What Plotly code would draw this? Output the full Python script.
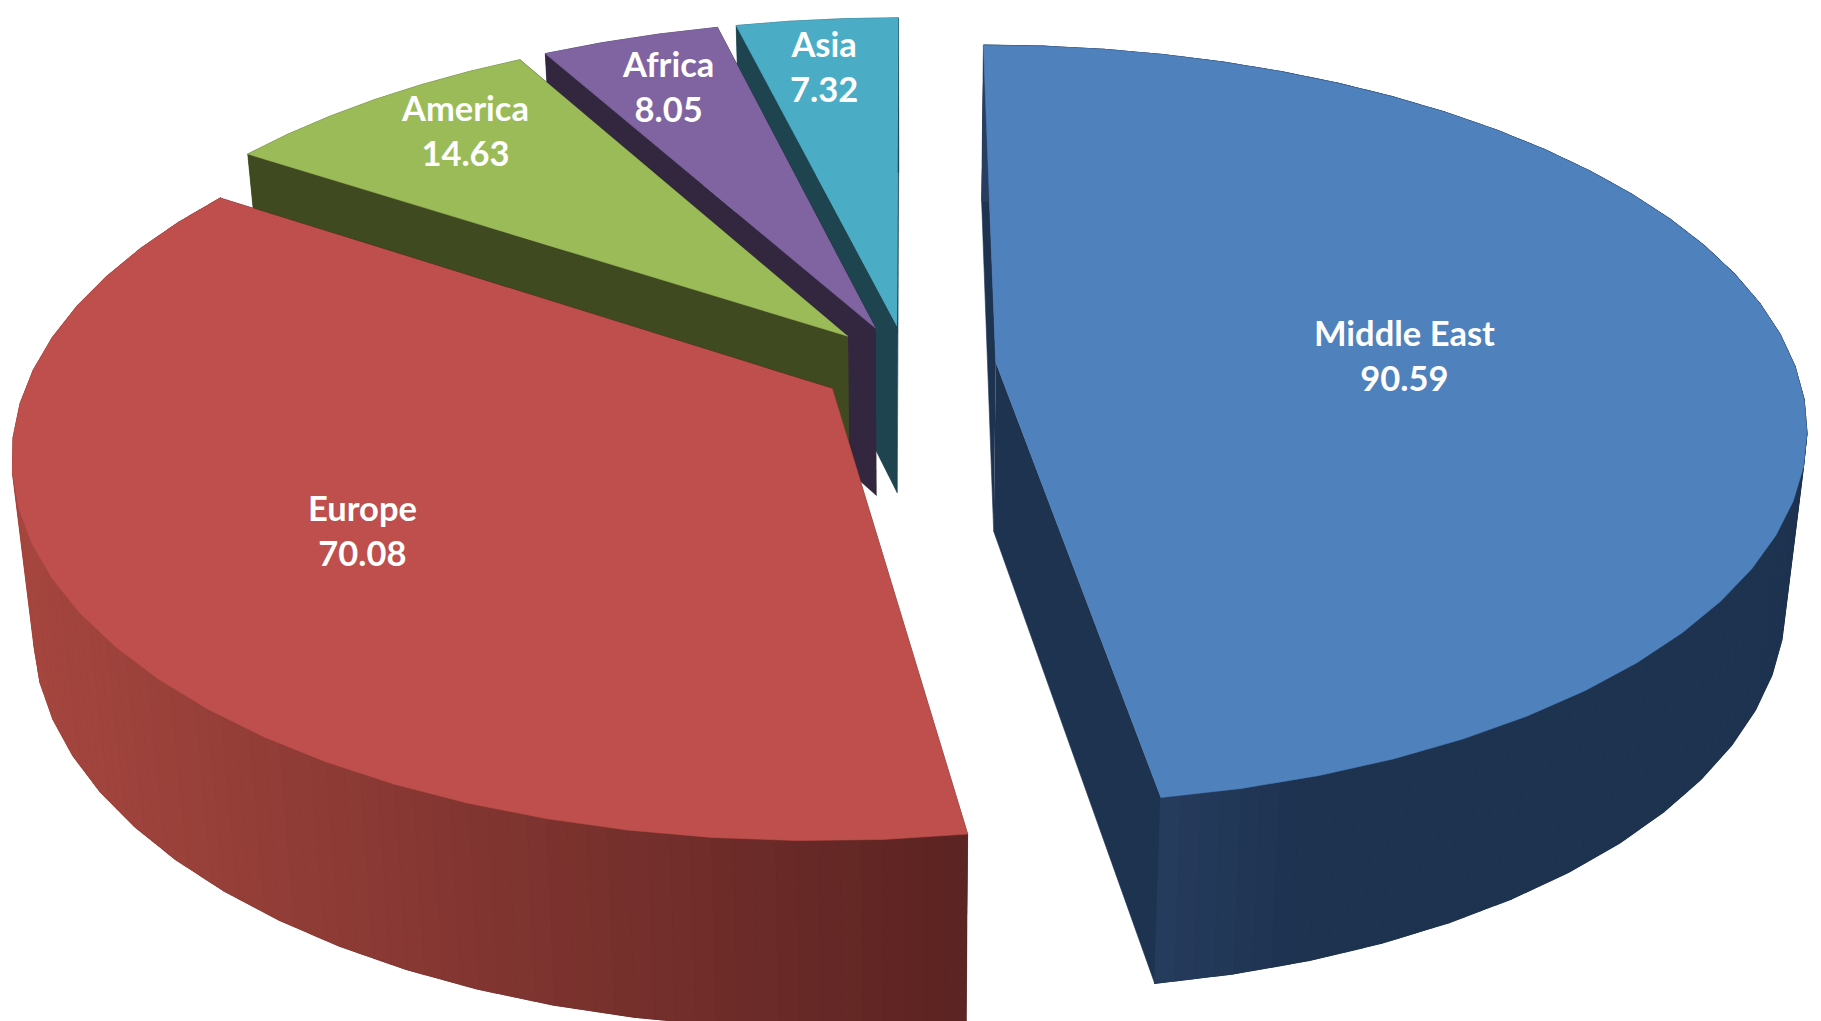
import numpy as np
import plotly.graph_objects as go

# ---- data (clockwise from 12 o'clock) ----
regions = ["Middle East", "Europe", "America", "Africa", "Asia"]
values = [90.59, 70.08, 14.63, 8.05, 7.32]

# ---- styles ----
top_colors = ["#4F81BD", "#BE4F4C", "#9BBB59", "#8064A2", "#4BACC6"]
side_colors = ["#1E3350", "#5C2422", "#404A21", "#33273F", "#1E4450"]
draw_order = ["Asia", "Africa", "America", "Middle East", "Europe"]
label_font_size = 34.5
label_anchor = {"Middle East": (1404, 355), "Europe": (362, 530), "America": (465, 130),
                "Africa": (668, 86), "Asia": (824, 66)}
rim_ramp = {"Middle East": ((1150, "#283E60"), (1300, "#1E3350")),
            "Europe": ((30, "#A5463F"), (960, "#5C2422"))}

# ---- 3D pie camera model ----
CX, CY, RX, RY, PERSP = 907.5, 366.0, 799.0, 370.4, 0.163
EXPLODE, BASE_SCALE, BASE_DROP, BASE_STRETCH = 0.111, 0.976, 168.5, 0.04
FACET_DEG = 5.0
STRIPS_PER_FACET = 4
W, H = 1821, 1021


def project(px, py):
    w = 1 + PERSP * py
    return CX + RX * px / w, CY - RY * py / w


def to_base(sx, sy):
    return CX + (sx - CX) * BASE_SCALE, sy + BASE_DROP + (sy - 364) * BASE_STRETCH


def hex_rgb(c):
    return np.array([int(c[i:i + 2], 16) for i in (1, 3, 5)], float)


def ramp(name, x):
    (x0, c0), (x1, c1) = rim_ramp[name]
    t = min(1, max(0, (x - x0) / (x1 - x0)))
    r = hex_rgb(c0) * (1 - t) + hex_rgb(c1) * t
    return "rgb(%d,%d,%d)" % tuple(r)


def poly(xs, ys, color, width=0.6):
    return go.Scatter(x=list(xs), y=list(ys), mode="lines", fill="toself", fillcolor=color,
                      line=dict(color=color, width=width), hoverinfo="skip", showlegend=False)


total = sum(values)
edges = np.concatenate([[0], np.cumsum(values)]) / total * 2 * np.pi
fig = go.Figure()

for name in draw_order:
    i = regions.index(name)
    a0, a1 = edges[i], edges[i + 1]
    mid = (a0 + a1) / 2
    ox, oy = EXPLODE * np.sin(mid), EXPLODE * np.cos(mid)
    n = max(2, int(round(np.degrees(a1 - a0) / FACET_DEG)))
    th = np.linspace(a0, a1, n + 1)
    tx, ty = project(ox + np.sin(th), oy + np.cos(th))
    ax, ay = project(ox, oy)
    bx, by = to_base(tx, ty)
    bax, bay = to_base(ax, ay)

    # cut faces
    fig.add_trace(poly([ax, tx[0], bx[0], bax], [ay, ty[0], by[0], bay], side_colors[i]))
    fig.add_trace(poly([ax, tx[-1], bx[-1], bax], [ay, ty[-1], by[-1], bay], side_colors[i]))
    # outer rim: one solid underlay, then shaded vertical bands
    fig.add_trace(poly(np.r_[tx, bx[::-1]], np.r_[ty, by[::-1]], side_colors[i]))
    if name in rim_ramp:
        u = np.arange(n + 1)
        uf = np.linspace(0, n, n * STRIPS_PER_FACET + 1)
        fx, fy = np.interp(uf, u, tx), np.interp(uf, u, ty)
        gx, gy = np.interp(uf, u, bx), np.interp(uf, u, by)
        for k in range(len(uf) - 1):
            c = ramp(name, (fx[k] + fx[k + 1]) / 2)
            fig.add_trace(poly([fx[k], fx[k + 1], gx[k + 1], gx[k]],
                               [fy[k], fy[k + 1], gy[k + 1], gy[k]], c, width=1.2))
    # top face
    fig.add_trace(poly(np.r_[ax, tx], np.r_[ay, ty], top_colors[i]))

annotations = [dict(x=label_anchor[r][0], y=label_anchor[r][1], xref="x", yref="y",
                    text="<b>%s<br>%.2f</b>" % (r, v), showarrow=False,
                    font=dict(family="Lato, Carlito, sans-serif", size=label_font_size, color="white"),
                    xanchor="center", yanchor="middle")
               for r, v in zip(regions, values)]

fig.update_layout(width=W, height=H, margin=dict(l=0, r=0, t=0, b=0),
                  paper_bgcolor="white", plot_bgcolor="white", showlegend=False,
                  annotations=annotations,
                  xaxis=dict(range=[0, W], visible=False, fixedrange=True),
                  yaxis=dict(range=[H, 0], visible=False, fixedrange=True))

fig.write_html("out.html", config={"displayModeBar": False},
               post_script="document.body.style.margin='0';document.body.style.overflow='hidden';")
